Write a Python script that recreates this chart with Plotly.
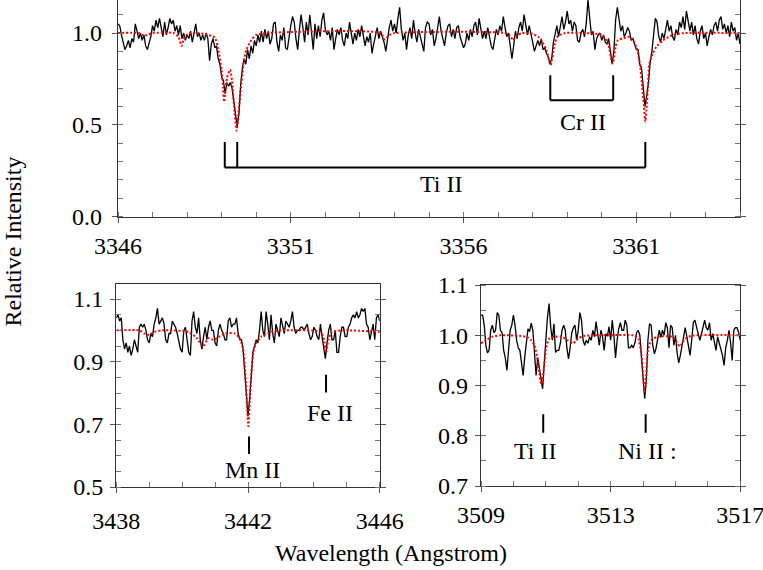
import plotly.graph_objects as go

FONT = "Liberation Serif, Times New Roman, serif"

# ---------------- data: top panel (3346-3364 A) ----------------
TOP_START, TOP_STEP = 3346.0, 0.05
top_obs = [
    1.05, 1.04, 0.99, 0.95, 0.91, 0.93, 0.96, 0.92, 0.97, 0.95, 1.05, 1.01, 0.97, 1.00, 0.96, 0.99, 0.93, 0.91, 0.95, 0.98,
    1.04, 1.01, 1.07, 1.03, 1.08, 1.02, 0.98, 1.06, 0.99, 1.03, 1.08, 1.05, 1.07, 1.01, 1.04, 0.99, 1.04, 0.97, 1.00, 0.96,
    0.99, 0.97, 1.01, 0.95, 1.00, 1.05, 0.98, 1.00, 0.96, 0.99, 0.96, 1.00, 0.97, 0.85, 0.94, 0.97, 0.92, 0.93, 0.86, 0.83,
    0.76, 0.74, 0.67, 0.73, 0.71, 0.73, 0.70, 0.62, 0.55, 0.49, 0.56, 0.72, 0.81, 0.86, 0.83, 0.91, 0.86, 0.93, 0.89, 0.96,
    0.93, 0.99, 0.95, 1.01, 0.95, 1.02, 0.97, 1.01, 0.94, 0.97, 1.05, 1.06, 0.95, 0.90, 0.99, 0.96, 1.03, 0.92, 0.91, 0.99,
    1.04, 1.09, 1.06, 0.97, 0.91, 1.02, 1.10, 1.03, 0.95, 1.06, 0.99, 1.10, 1.01, 0.91, 1.05, 0.97, 1.04, 0.98, 1.07, 1.11,
    1.02, 0.99, 1.01, 0.96, 1.03, 0.91, 0.97, 1.02, 0.99, 1.03, 0.96, 0.93, 1.00, 0.97, 1.06, 1.01, 0.94, 1.00, 0.96, 1.02,
    0.98, 1.04, 0.99, 0.93, 0.98, 0.95, 1.00, 0.89, 0.94, 0.99, 1.03, 0.97, 1.01, 0.98, 0.95, 0.90, 0.98, 1.03, 1.07, 1.01,
    1.05, 1.00, 1.08, 1.14, 1.02, 0.96, 1.00, 0.91, 0.99, 1.03, 0.97, 1.07, 1.00, 0.95, 1.02, 0.98, 0.94, 0.90, 1.03, 1.06,
    1.05, 0.99, 1.02, 0.93, 0.97, 1.02, 1.09, 1.01, 0.96, 0.93, 1.00, 1.04, 1.05, 0.98, 1.02, 0.97, 1.03, 1.04, 0.98, 0.95,
    0.92, 0.94, 1.00, 0.96, 1.02, 0.98, 1.04, 1.06, 0.99, 1.08, 1.02, 0.97, 1.01, 0.97, 1.03, 0.98, 0.93, 0.91, 0.97, 1.02,
    0.99, 1.04, 1.01, 1.09, 1.03, 0.98, 1.00, 0.94, 0.86, 0.93, 1.01, 0.97, 1.03, 1.06, 1.01, 1.10, 1.05, 0.99, 1.04, 1.00,
    0.95, 0.90, 0.93, 0.96, 0.93, 0.97, 0.91, 0.92, 0.89, 0.87, 0.83, 0.86, 0.95, 1.00, 1.04, 0.98, 1.05, 1.09, 1.02, 1.06,
    1.12, 1.05, 1.07, 1.01, 1.06, 1.04, 0.96, 0.95, 1.00, 1.02, 0.98, 1.05, 1.18, 1.06, 0.99, 1.01, 0.91, 0.97, 0.99, 1.00,
    0.96, 0.99, 0.95, 0.94, 0.97, 0.90, 0.83, 0.90, 1.07, 1.14, 1.06, 1.01, 1.04, 0.98, 1.00, 1.03, 1.01, 0.96, 0.97, 0.94,
    0.91, 0.91, 0.83, 0.81, 0.70, 0.60, 0.66, 0.73, 0.84, 0.90, 0.99, 1.08, 1.06, 0.98, 0.95, 1.00, 0.97, 1.03, 1.07, 1.01,
    1.04, 0.98, 0.96, 1.02, 0.99, 1.06, 1.03, 1.09, 1.02, 1.12, 1.05, 1.01, 1.06, 0.99, 1.04, 0.97, 0.94, 1.01, 1.04, 0.97,
    1.00, 0.93, 0.98, 1.02, 0.99, 1.04, 1.06, 1.01, 1.07, 1.09, 1.02, 1.05, 1.00, 1.04, 0.98, 1.06, 1.01, 1.03, 0.96, 1.00,
    0.94,
]
top_model_wl = [
    3346.0, 3346.6, 3346.75, 3346.85, 3347.0, 3347.6, 3347.75, 3347.84, 3347.93, 3348.1, 3348.5,
    3348.8, 3348.9, 3349.0, 3349.04, 3349.07, 3349.10, 3349.16, 3349.24, 3349.30, 3349.36, 3349.43,
    3349.48, 3349.57, 3349.64, 3349.71, 3349.86, 3350.0, 3350.3, 3353.6, 3353.72, 3353.85, 3354.0,
    3357.2, 3357.35, 3357.43, 3357.52, 3357.7, 3358.0, 3358.16, 3358.25, 3358.40, 3358.52, 3358.64,
    3358.73, 3358.93, 3359.5, 3360.0, 3360.18, 3360.28, 3360.32, 3360.40, 3360.47, 3360.61, 3360.81,
    3361.0, 3361.1, 3361.17, 3361.22, 3361.26, 3361.29, 3361.34, 3361.38, 3361.48, 3361.58, 3361.77,
    3362.06, 3362.4, 3364.0,
]
top_model_flux = [
    1.0, 1.0, 0.985, 0.99, 1.0, 1.0, 0.98, 0.93, 0.98, 1.0, 0.995,
    0.975, 0.91, 0.80, 0.70, 0.626, 0.67, 0.76, 0.80, 0.74, 0.60, 0.468,
    0.55, 0.726, 0.84, 0.907, 0.962, 0.99, 1.0, 1.0, 0.965, 0.99, 1.0,
    1.0, 0.985, 0.96, 0.985, 1.0, 0.995, 0.98, 0.962, 0.907, 0.826, 0.944,
    0.984, 1.0, 1.0, 0.99, 0.944, 0.853, 0.835, 0.926, 0.962, 0.97, 0.98,
    0.926, 0.835, 0.708, 0.60, 0.517, 0.58, 0.726, 0.835, 0.89, 0.926, 0.96,
    0.99, 1.0, 1.0,
]

# ---------------- data: bottom-left panel (3438-3446 A) ----------------
BL_START, BL_STEP = 3438.0, 0.05
bl_obs = [
    1.04, 1.05, 1.03, 1.04, 0.97, 0.94, 0.96, 0.93, 0.95, 0.92, 0.94, 0.97, 0.95, 0.93, 1.01, 1.02, 1.01, 1.02, 1.00, 0.97,
    0.96, 0.99, 0.98, 1.02, 1.04, 1.07, 1.02, 1.03, 1.04, 1.02, 0.97, 0.96, 0.99, 0.99, 1.03, 1.02, 1.01, 0.99, 0.96, 0.94,
    0.93, 1.00, 1.01, 0.96, 0.93, 0.92, 1.03, 1.06, 1.01, 0.99, 1.04, 0.97, 0.94, 0.98, 1.01, 0.97, 1.01, 1.03, 1.00, 1.00,
    0.96, 0.95, 1.00, 1.02, 1.00, 0.99, 0.97, 0.97, 1.03, 1.04, 1.01, 1.02, 1.02, 1.04, 0.99, 0.97, 0.97, 0.94, 0.86, 0.78,
    0.725, 0.78, 0.85, 0.93, 0.95, 0.97, 0.96, 1.00, 1.06, 1.00, 0.98, 1.06, 1.02, 0.97, 1.05, 0.99, 0.96, 1.02, 1.00, 0.98,
    1.04, 1.01, 0.99, 1.03, 1.02, 1.01, 1.03, 1.06, 1.01, 0.99, 1.00, 1.00, 1.01, 1.01, 1.00, 1.01, 1.02, 0.99, 0.97, 0.98,
    1.01, 1.00, 0.98, 0.97, 1.02, 0.98, 0.95, 0.91, 0.96, 1.00, 1.02, 0.97, 0.97, 1.00, 0.93, 0.93, 0.98, 1.01, 1.01, 0.98,
    0.98, 1.01, 1.02, 1.04, 1.05, 1.04, 1.06, 1.04, 1.05, 1.07, 1.06, 1.07, 1.02, 1.01, 0.97, 1.00, 1.02, 0.97, 1.04, 1.05,
    1.03,
]
bl_model_wl = [
    3438.0, 3438.7, 3438.85, 3439.0, 3439.15, 3439.4, 3440.2, 3440.45, 3440.63, 3440.8, 3440.95,
    3441.1, 3441.3, 3441.6, 3441.75, 3441.85, 3441.92, 3441.97, 3442.01, 3442.05, 3442.10, 3442.16,
    3442.25, 3442.4, 3442.7, 3443.0, 3444.2, 3444.3, 3444.37, 3444.44, 3444.55, 3445.0, 3446.0,
]
bl_model_flux = [
    1.0, 1.0, 0.99, 0.986, 0.995, 1.0, 0.995, 0.975, 0.949, 0.975, 0.97,
    0.978, 0.99, 0.99, 0.975, 0.94, 0.86, 0.76, 0.694, 0.77, 0.86, 0.93,
    0.96, 0.98, 0.995, 1.0, 0.995, 0.975, 0.928, 0.97, 0.995, 1.0, 0.995,
]

# ---------------- data: bottom-right panel (3509-3517 A) ----------------
BR_START, BR_STEP = 3509.0, 0.05
br_obs = [
    1.04, 1.04, 1.02, 0.98, 0.965, 0.97, 1.01, 1.02, 1.005, 1.01, 1.045, 1.04, 1.01, 1.005, 0.97, 0.955, 0.93, 0.975, 1.01, 1.02,
    1.04, 1.02, 0.99, 0.975, 0.97, 0.945, 0.92, 0.957, 0.99, 1.013, 1.007, 1.024, 1.01, 0.965, 0.92, 0.955, 0.93, 0.915, 0.893, 0.95,
    0.99, 1.035, 1.063, 1.017, 0.99, 1.023, 0.966, 0.97, 0.97, 0.985, 1.01, 1.02, 1.01, 0.975, 0.953, 0.975, 1.005, 1.015, 1.02, 0.99,
    1.01, 1.045, 1.03, 0.99, 0.98, 0.99, 0.984, 0.997, 0.99, 1.01, 0.997, 1.027, 1.004, 0.98, 1.01, 0.997, 0.97, 1.003, 0.998, 1.017,
    0.99, 1.03, 1.0, 0.955, 0.99, 1.013, 1.025, 1.01, 1.01, 1.03, 1.02, 0.975, 0.975, 0.98, 0.975, 0.985, 1.005, 1.01, 1.0, 0.955,
    0.915, 0.874, 0.91, 0.99, 1.023, 1.02, 0.98, 0.963, 0.974, 0.99, 1.01, 0.996, 1.01, 1.0, 1.025, 1.015, 0.975, 1.02, 1.015, 0.98,
    1.0, 0.965, 0.945, 0.96, 0.98, 1.0, 1.015, 0.998, 0.975, 0.96, 0.99, 1.025, 1.03, 1.015, 1.0, 0.99, 1.002, 1.018, 1.03, 1.015,
    1.01, 1.025, 0.99, 1.003, 0.984, 0.97, 0.997, 0.984, 0.97, 0.96, 0.94, 0.975, 0.99, 1.01, 0.985, 0.95, 1.01, 1.015, 1.015, 1.005,
    0.99,
]
br_model_wl = [
    3509.0, 3509.15, 3509.35, 3509.6, 3510.4, 3510.55, 3510.65, 3510.73, 3510.80, 3510.85, 3510.88,
    3510.93, 3511.0, 3511.1, 3511.3, 3511.5, 3511.68, 3511.84, 3512.0, 3512.2, 3513.0, 3513.7,
    3513.85, 3513.95, 3514.0, 3514.05, 3514.1, 3514.15, 3514.25, 3514.45, 3514.9, 3515.05, 3515.13,
    3515.3, 3515.5, 3517.0,
]
br_model_flux = [
    0.984, 0.99, 0.997, 1.0, 0.997, 0.99, 0.98, 0.957, 0.925, 0.905, 0.903,
    0.93, 0.97, 0.993, 0.997, 0.997, 0.99, 0.984, 0.994, 0.999, 1.0, 1.0,
    0.993, 0.96, 0.92, 0.885, 0.924, 0.97, 0.99, 0.997, 0.997, 0.985, 0.978,
    0.993, 0.999, 1.0,
]

# ---------------- line identifications ----------------
TI_TOP_LINES = [3349.09, 3349.45, 3361.26]
CR_TOP_LINES = [3358.51, 3360.33]
MN_LINE, FE_LINE = 3442.03, 3444.37
TI_BR_LINE, NI_BR_LINE = 3510.92, 3514.08


def grid(start, step, n):
    return [round(start + step * i, 4) for i in range(n)]


fig = go.Figure()

panels = [
    ("x", "y", grid(TOP_START, TOP_STEP, len(top_obs)), top_obs, top_model_wl, top_model_flux),
    ("x2", "y2", grid(BL_START, BL_STEP, len(bl_obs)), bl_obs, bl_model_wl, bl_model_flux),
    ("x3", "y3", grid(BR_START, BR_STEP, len(br_obs)), br_obs, br_model_wl, br_model_flux),
]
for xa, ya, wl, obs, mwl, mfl in panels:
    fig.add_trace(go.Scatter(x=wl, y=obs, mode="lines", xaxis=xa, yaxis=ya,
                             line=dict(color="black", width=1.3), showlegend=False,
                             hoverinfo="skip"))
    fig.add_trace(go.Scatter(x=mwl, y=mfl, mode="lines", xaxis=xa, yaxis=ya,
                             line=dict(color="#ff0000", width=2, dash="2px,2px", shape="spline",
                                       smoothing=0.6),
                             showlegend=False, hoverinfo="skip"))

W, H = 763, 570
TICKFONT = dict(family=FONT, size=24, color="black")


def xaxis(dom, rng, tick0, dtick, standoff):
    return dict(domain=dom, range=rng, tick0=tick0, dtick=dtick, showline=True, linecolor="#333333",
                linewidth=1.3, mirror=True, ticks="outside", ticklen=5, tickcolor="#555555",
                showgrid=False, zeroline=False, tickfont=TICKFONT, automargin=False,
                ticklabelstandoff=standoff, ticklabeloverflow="allow",
                minor=dict(ticks="inside", ticklen=5, tickcolor="#777777", dtick=1, tick0=tick0,
                           showgrid=False))


def yaxis(dom, rng, tick0, dtick, mdtick, standoff):
    return dict(domain=dom, range=rng, tick0=tick0, dtick=dtick, tickformat=".1f", showline=True,
                linecolor="#333333", linewidth=1.3, mirror="ticks", ticks="outside", ticklen=5,
                tickcolor="#555555", showgrid=False, zeroline=False, tickfont=TICKFONT,
                automargin=False, ticklabelstandoff=standoff, ticklabeloverflow="allow",
                minor=dict(ticks="inside", ticklen=5, tickcolor="#777777", dtick=mdtick, tick0=tick0,
                           showgrid=False))


fig.update_layout(
    width=W, height=H, template="none", paper_bgcolor="white", plot_bgcolor="white",
    margin=dict(l=0, r=0, t=0, b=0), showlegend=False,
    font=dict(family=FONT, size=24, color="black"),
    xaxis=xaxis([118 / W, 740 / W], [3346, 3364], 3346, 5, 2),
    yaxis=yaxis([1 - 216.7 / H, 1.0], [0, 1.18], 0, 0.5, 0.1, 5),
    xaxis2=xaxis([116.3 / W, 379.7 / W], [3438, 3446], 3438, 4, 7),
    yaxis2=yaxis([1 - 487 / H, 1 - 284 / H], [0.5, 1.148], 0.5, 0.2, 0.05, 2),
    xaxis3=xaxis([481 / W, 740.3 / W], [3509, 3517], 3509, 4, 2),
    yaxis3=yaxis([1 - 486 / H, 1 - 285 / H], [0.7, 1.1], 0.7, 0.1, 0.05, 2),
)
fig.layout.xaxis3.anchor = "y3"
fig.layout.yaxis3.anchor = "x3"
fig.layout.xaxis2.anchor = "y2"
fig.layout.yaxis2.anchor = "x2"

shapes = []
LINE = dict(color="black", width=2)
# Ti II bracket (top)
ti_top, ti_bot = 0.407, 0.268
for lam in TI_TOP_LINES:
    shapes.append(dict(type="line", xref="x", yref="y", x0=lam, x1=lam, y0=ti_bot, y1=ti_top, line=LINE))
shapes.append(dict(type="line", xref="x", yref="y", x0=TI_TOP_LINES[0], x1=TI_TOP_LINES[-1],
                   y0=ti_bot, y1=ti_bot, line=LINE))
# Cr II bracket (top)
cr_top, cr_bot = 0.770, 0.634
for lam in CR_TOP_LINES:
    shapes.append(dict(type="line", xref="x", yref="y", x0=lam, x1=lam, y0=cr_bot, y1=cr_top, line=LINE))
shapes.append(dict(type="line", xref="x", yref="y", x0=CR_TOP_LINES[0], x1=CR_TOP_LINES[-1],
                   y0=cr_bot, y1=cr_bot, line=LINE))
# single line markers
shapes.append(dict(type="line", xref="x2", yref="y2", x0=MN_LINE, x1=MN_LINE, y0=0.605, y1=0.6615, line=LINE))
shapes.append(dict(type="line", xref="x2", yref="y2", x0=FE_LINE, x1=FE_LINE, y0=0.802, y1=0.858, line=LINE))
shapes.append(dict(type="line", xref="x3", yref="y3", x0=TI_BR_LINE, x1=TI_BR_LINE, y0=0.806, y1=0.843, line=LINE))
shapes.append(dict(type="line", xref="x3", yref="y3", x0=NI_BR_LINE, x1=NI_BR_LINE, y0=0.806, y1=0.843, line=LINE))
fig.update_layout(shapes=shapes)

LABFONT = dict(family=FONT, size=24, color="black")
ann = [
    dict(text="Ti II", xref="x", yref="y", x=3355.34, y=0.178),
    dict(text="Cr II", xref="x", yref="y", x=3359.45, y=0.513),
    dict(text="Mn II", xref="x2", yref="y2", x=3442.14, y=0.555),
    dict(text="Fe II", xref="x2", yref="y2", x=3444.48, y=0.737),
    dict(text="Ti II", xref="x3", yref="y3", x=3510.66, y=0.770),
    dict(text="Ni II :", xref="x3", yref="y3", x=3514.15, y=0.770),
    dict(text="Relative Intensity", xref="paper", yref="paper", x=12.5 / W, y=1 - 242 / H, textangle=-90),
    dict(text="Wavelength (Angstrom)", xref="paper", yref="paper", x=391 / W, y=1 - 553 / H),
]
for a in ann:
    a.update(showarrow=False, font=LABFONT, xanchor="center", yanchor="middle")
fig.update_layout(annotations=ann)

fig.write_html("out.html", config={"displayModeBar": False},
               post_script="document.body.style.margin='0';document.body.style.padding='0';")
